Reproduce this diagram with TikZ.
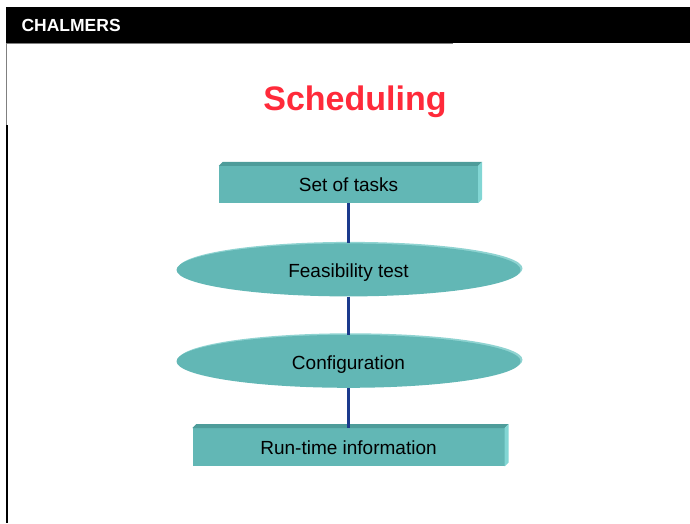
\documentclass[tikz,border=0pt]{standalone}
\usepackage{fontspec}
\setmainfont{Liberation Sans}
\usetikzlibrary{shapes.geometric, shadows, positioning, calc}
\definecolor{slabface}{HTML}{62B7B5}
\definecolor{slabtop}{HTML}{4E9C9A}
\definecolor{slabside}{HTML}{82D6D4}
\definecolor{discrim}{HTML}{8FD3D1}
\definecolor{linkblue}{HTML}{1B3A8C}
\definecolor{titlered}{HTML}{FF2A3A}

\begin{document}
\begin{tikzpicture}[x=1pt, y=-1pt,
  slab/.style={fill=slabface, minimum height=37pt, inner sep=0pt, text height=18pt, text depth=4pt,
    font=\fontsize{19}{22}\selectfont},
  disc/.style={ellipse, fill=slabface, minimum width=344pt, minimum height=53pt, inner sep=0pt,
    text height=20pt, text depth=4pt, font=\fontsize{19}{22}\selectfont,
    copy shadow={shadow xshift=2pt, shadow yshift=1.5pt, fill=discrim, draw=none}},
  link/.style={draw=linkblue, line width=3pt}
]
\useasboundingbox (0,0) rectangle (690,523);

% header
\fill[black] (6,7) rectangle (690,43);
\draw[gray, line width=1pt] (6,43.5) -- (453,43.5);
\draw[gray, line width=1pt] (6.5,43) -- (6.5,125);
\draw[black, line width=2.5pt] (7,125) -- (7,523);
\node[anchor=west, text=white, font=\bfseries\fontsize{17.5}{20}\selectfont] (brand) at (18,25) {CHALMERS};
\node[text=titlered, font=\bfseries\fontsize{34}{40}\selectfont] (title) at (355,102) {Scheduling};

% flow
\node[slab, minimum width=259pt] (tasks) at (348.5,184.5) {Set of tasks};
\node[disc, below=40pt of tasks] (feas) {Feasibility test};
\node[disc, below=38pt of feas] (conf) {Configuration};
\node[slab, minimum width=312pt, minimum height=38pt, below=40pt of conf] (runtime) {Run-time information};

% bevels
\foreach \b in {tasks, runtime} {
  \fill[slabtop] (\b.north west) -- ++(4,-4) -- ($(\b.north east)+(4,-4)$) -- (\b.north east) -- cycle;
  \fill[slabside] (\b.north east) -- ++(4,-4) -- ($(\b.south east)+(4,-4)$) -- (\b.south east) -- cycle;
}

\draw[link] (tasks) -- (feas);
\draw[link] (feas) -- (conf);
\draw[link] (conf) -- (runtime);
\end{tikzpicture}
\end{document}
